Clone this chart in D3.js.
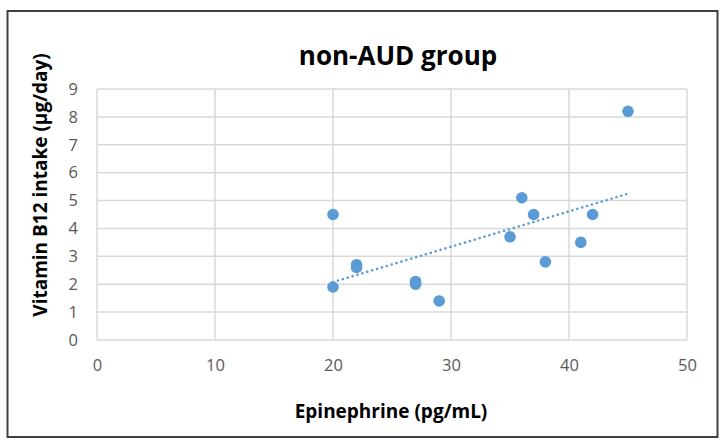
<!DOCTYPE html>
<html>
<head>
<meta charset="utf-8">
<script src="https://cdn.jsdelivr.net/npm/d3@7"></script>
<style>
body { margin: 0; background: #fff; }
svg text { font-family: "Open Sans", "Liberation Sans", sans-serif; }
.grid line { stroke: #d9d9d9; stroke-width: 1.5px; }
.tick text { fill: #595959; font-size: 16.5px; }
</style>
</head>
<body>
<script>
// epinephrine (pg/mL) vs vitamin B12 intake (µg/day), non-AUD group
var epinephrine = [20, 20, 22, 22, 27, 27, 29, 35, 36, 37, 38, 41, 42, 45];
var b12 = [4.5, 1.9, 2.7, 2.6, 2.1, 2.0, 1.4, 3.7, 5.1, 4.5, 2.8, 3.5, 4.5, 8.2];
var xTicks = [0, 10, 20, 30, 40, 50];
var yTicks = [0, 1, 2, 3, 4, 5, 6, 7, 8, 9];

var W = 728, H = 447;
var margin = {left: 97, right: 41, top: 89, bottom: 107};

var svg = d3.select("body").append("svg")
    .attr("width", W)
    .attr("height", H);

// outer frame
svg.append("rect")
    .attr("x", 7.5).attr("y", 11)
    .attr("width", 710).attr("height", 426)
    .attr("fill", "none")
    .attr("stroke", "#404040")
    .attr("stroke-width", 2);

var x = d3.scaleLinear().domain([0, 50]).range([margin.left, W - margin.right]);
var y = d3.scaleLinear().domain([0, 9]).range([H - margin.bottom, margin.top]);

// gridlines
var grid = svg.append("g").attr("class", "grid");
grid.selectAll(".v").data(xTicks).enter().append("line")
    .attr("x1", d => x(d)).attr("x2", d => x(d))
    .attr("y1", y(0)).attr("y2", y(9));
grid.selectAll(".h").data(yTicks).enter().append("line")
    .attr("x1", x(0)).attr("x2", x(50))
    .attr("y1", d => y(d)).attr("y2", d => y(d));

// axes (labels only)
var xAxis = svg.append("g")
    .attr("transform", "translate(0," + y(0) + ")")
    .call(d3.axisBottom(x).tickValues(xTicks).tickSize(0).tickPadding(19));
xAxis.select(".domain").remove();

var yAxis = svg.append("g")
    .attr("transform", "translate(" + x(0) + ",0)")
    .call(d3.axisLeft(y).tickValues(yTicks).tickSize(0).tickPadding(19));
yAxis.select(".domain").remove();

// linear trendline (least squares)
var mx = d3.mean(epinephrine), my = d3.mean(b12);
var sxy = d3.sum(epinephrine, (v, i) => (v - mx) * (b12[i] - my));
var sxx = d3.sum(epinephrine, v => (v - mx) * (v - mx));
var slope = sxy / sxx, icpt = my - slope * mx;
var xmin = d3.min(epinephrine), xmax = d3.max(epinephrine);

svg.append("line")
    .attr("x1", x(xmin)).attr("y1", y(icpt + slope * xmin))
    .attr("x2", x(xmax)).attr("y2", y(icpt + slope * xmax))
    .attr("stroke", "#5b9bd5")
    .attr("stroke-width", 2.5)
    .attr("stroke-linecap", "round")
    .attr("stroke-dasharray", "0.1,5");

// points
svg.selectAll(".pt").data(epinephrine).enter().append("circle")
    .attr("class", "pt")
    .attr("cx", d => x(d))
    .attr("cy", (d, i) => y(b12[i]))
    .attr("r", 5.8)
    .attr("fill", "#5b9bd5");

// titles
svg.append("text")
    .attr("x", 398).attr("y", 65)
    .attr("text-anchor", "middle")
    .style("font-size", "26px").style("font-weight", "bold")
    .attr("fill", "#000")
    .text("non-AUD group");

svg.append("text")
    .attr("x", 391).attr("y", 418)
    .attr("text-anchor", "middle")
    .style("font-size", "19px").style("font-weight", "bold")
    .text("Epinephrine (pg/mL)");

svg.append("text")
    .attr("transform", "translate(47,185) rotate(-90)")
    .attr("text-anchor", "middle")
    .style("font-size", "19px").style("font-weight", "bold")
    .text("Vitamin B12 intake (µg/day)");
</script>
</body>
</html>
